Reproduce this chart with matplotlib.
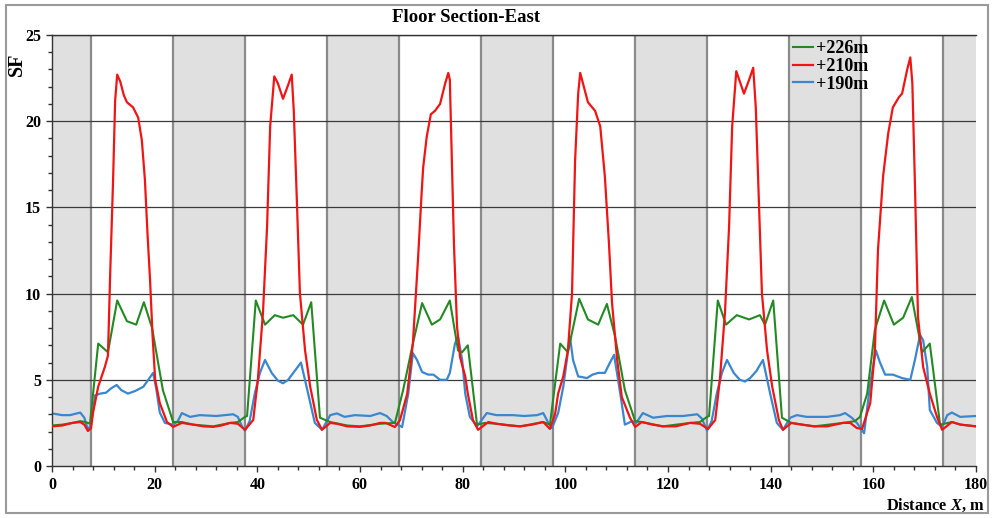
import matplotlib
matplotlib.use("Agg")
import matplotlib.pyplot as plt
from matplotlib.patches import Rectangle
from matplotlib.ticker import MultipleLocator

plt.rcParams['font.family'] = ['Liberation Serif', 'DejaVu Serif']
plt.rcParams['font.weight'] = 'bold'
plt.rcParams['mathtext.fontset'] = 'custom'
plt.rcParams['mathtext.bfit'] = 'Liberation Serif:italic:bold'
plt.rcParams['mathtext.it'] = 'Liberation Serif:italic:bold'

# shaded (gray) floor sections along the distance axis, m
gray_sections = [(0, 7.6), (23.6, 37.6), (53.6, 67.6), (83.6, 97.6),
                 (113.6, 127.6), (143.6, 157.6), (173.6, 180)]

# +226m level
x_226 = [0, 2, 4, 5.5, 6.5, 7.4,
         9.0, 10.9, 12.7, 14.6, 16.4, 17.9, 19.5, 21.6, 23.6,
         25.3, 27.5, 31.4, 34.7, 36.2, 37.6,
         38.0, 39.7, 41.5, 43.4, 45.0, 47.0, 48.9, 50.5, 52.2,
         54.2, 57.5, 60, 63.9, 66.8,
         68.4, 70.3, 72.1, 74.0, 75.6, 77.5, 79.1, 79.9, 81.0, 82.8,
         84.4, 86.6, 91.2, 95.7, 97.0,
         99.0, 100.5, 102.7, 104.4, 106.4, 108.1, 109.7, 111.6, 113.6,
         114.9, 119, 124.3, 126.2, 127.6,
         128.0, 129.7, 131.3, 133.4, 135.8, 137.9, 138.9, 140.5, 142.2,
         144.0, 148.5, 154.1, 156.4, 157.4,
         158.8, 160.3, 162.1, 164.0, 165.8, 167.5, 169.5, 171.0, 173.0,
         175.3, 177, 180]
sf_226 = [2.35, 2.4, 2.5, 2.6, 2.55, 2.45,
          7.1, 6.6, 9.6, 8.4, 8.2, 9.5, 8.0, 4.4, 2.55,
          2.55, 2.4, 2.3, 2.5, 2.55, 2.85,
          2.9, 9.6, 8.2, 8.75, 8.6, 8.75, 8.2, 9.5, 2.8,
          2.55, 2.35, 2.3, 2.45, 2.5,
          4.4, 7.1, 9.45, 8.2, 8.5, 9.6, 6.7, 6.6, 7.0, 2.4,
          2.5, 2.45, 2.3, 2.55, 2.4,
          7.1, 6.6, 9.7, 8.5, 8.2, 9.4, 7.5, 4.4, 2.6,
          2.55, 2.3, 2.5, 2.55, 2.85,
          2.9, 9.6, 8.2, 8.75, 8.5, 8.75, 8.2, 9.6, 2.8,
          2.5, 2.3, 2.5, 2.6, 2.85,
          4.2, 7.9, 9.6, 8.2, 8.6, 9.8, 6.6, 7.1, 2.4,
          2.55, 2.4, 2.3]

# +210m level
x_210 = [0, 2, 4, 5.5, 6.3, 7.0, 7.6,
         8.0, 9.0, 10.3, 10.9, 11.3, 11.9, 12.3, 12.7, 13.3, 14.0, 14.6, 15.8,
         16.8, 17.5, 18.1, 18.6, 19.1, 19.6, 20.1, 21.0, 22.4, 23.6,
         25.3, 27.5, 29.5, 31.4, 33, 34.7, 36.2, 37.6,
         39.2, 40.1, 41.1, 41.9, 42.5, 43.3, 44.0, 45.0, 46.0, 46.7, 47.1,
         47.7, 48.3, 49.3, 50.3, 51.6, 52.6,
         54.2, 55.5, 57.5, 60, 62, 63.9, 65, 66.8,
         67.8, 69.2, 70.3, 71.3, 72.0, 72.3, 73.0, 73.8, 74.6, 75.6, 76.6,
         77.2, 77.5, 77.9, 78.3, 78.9, 79.5, 80.5, 81.0, 82.0, 83.0,
         85.0, 86.6, 89, 91.2, 93.5, 95.7, 97.0,
         98.0, 98.6, 99.6, 100.5, 101.3, 101.9, 102.5, 102.9, 103.6, 104.4,
         105.8, 106.8, 107.7, 108.5, 109.1, 110.1, 111.0, 112.6, 113.6,
         114.9, 117, 119, 121.5, 124.3, 126.2, 127.8,
         129.2, 130.1, 131.1, 131.9, 132.5, 133.3, 134.0, 134.8, 135.8, 136.6,
         137.1, 137.7, 138.3, 139.3, 140.3, 141.6, 142.4,
         144.0, 146, 148.5, 151, 154.1, 155.5, 156.8, 157.8,
         159.4, 160.3, 160.9, 161.9, 162.9, 163.8, 165.0, 165.6, 166.6, 167.2,
         167.6, 168.1, 168.7, 169.7, 171.0, 172.4, 173.4,
         175.3, 177, 180]
sf_210 = [2.3, 2.35, 2.5, 2.55, 2.4, 2.03, 2.2,
          3.1, 4.6, 5.75, 6.4, 10.8, 16.6, 21.2, 22.7, 22.3, 21.5, 21.1, 20.8,
          20.2, 18.9, 16.6, 13.5, 10.8, 7.5, 5.0, 3.65, 2.55, 2.27,
          2.5, 2.4, 2.3, 2.27, 2.35, 2.5, 2.45, 2.1,
          2.67, 5.0, 8.9, 13.9, 19.7, 22.6, 22.2, 21.3, 22.1, 22.7, 20.6,
          15.4, 10.0, 6.7, 4.6, 2.67, 2.1,
          2.5, 2.45, 2.3, 2.27, 2.35, 2.5, 2.5, 2.26,
          2.67, 4.2, 7.1, 12.0, 15.8, 17.3, 19.1, 20.4, 20.6, 21.0, 22.2,
          22.8, 22.4, 17.7, 12.9, 8.1, 6.3, 5.2, 4.2, 2.67, 2.1,
          2.55, 2.45, 2.35, 2.3, 2.4, 2.55, 2.15,
          3.0, 4.2, 5.2, 6.7, 10.0, 17.7, 21.6, 22.8, 22.0, 21.1,
          20.6, 19.7, 16.8, 12.9, 9.45, 6.15, 4.0, 2.8, 2.27,
          2.55, 2.4, 2.3, 2.3, 2.5, 2.45, 2.15,
          2.67, 5.0, 8.9, 13.9, 19.7, 22.9, 22.3, 21.6, 22.4, 23.1,
          20.8, 15.4, 10.0, 6.7, 4.6, 2.67, 2.1,
          2.5, 2.4, 2.3, 2.3, 2.5, 2.5, 2.2, 2.15,
          3.65, 6.7, 12.5, 16.8, 19.3, 20.8, 21.4, 21.6, 23.0, 23.7,
          22.2, 16.4, 8.65, 5.75, 4.2, 2.85, 2.1,
          2.55, 2.4, 2.3]

# +190m level
x_190 = [0, 2, 3.5, 5.5, 6.3, 7.0, 7.6,
         8.4, 9.4, 10.5, 11.5, 12.6, 13.5, 14.8, 16.2, 17.8, 19.0, 19.7, 20.3,
         21.0, 22.0, 23.6,
         24.5, 25.3, 26.9, 28.8, 32, 35.3, 36.2, 37.0, 37.6,
         38.5, 39.5, 40.5, 41.5, 42.8, 44.0, 45.0, 46.0, 47.0, 48.5, 49.9,
         51.2, 52.6,
         54.2, 55.5, 57, 59, 62, 63.9, 65.2, 66.4, 68.2,
         69.4, 70.3, 71.1, 72.1, 73.3, 74.3, 75.6, 76.9, 77.5, 78.5, 79.1,
         79.9, 80.5, 81.4, 82.8,
         84.7, 86.6, 89.8, 92, 94.5, 95.7, 96.6, 97.4,
         98.6, 99.6, 100.9, 101.5, 102.5, 104.2, 105.3, 106.4, 107.7, 108.7,
         109.5, 110.7, 111.6, 113.0, 113.8,
         115.1, 117.1, 119.8, 122.9, 125.7, 126.6, 127.6,
         128.5, 129.5, 130.5, 131.5, 132.8, 134.0, 135.0, 136.0, 137.2, 138.5,
         139.9, 141.2, 142.4,
         143.8, 145.1, 147.0, 151, 153.5, 154.5, 155.8, 156.8, 158.2,
         159.4, 160.5, 161.3, 162.3, 163.8, 165.6, 167.2, 168.1, 169.1, 169.7,
         170.5, 171.0, 172.4, 173.4,
         174.4, 175.3, 176.9, 180]
sf_190 = [3.05, 2.95, 2.95, 3.1, 2.8, 2.1, 2.4,
          4.1, 4.2, 4.25, 4.5, 4.7, 4.4, 4.2, 4.35, 4.6, 5.1, 5.4, 4.5,
          3.1, 2.5, 2.4,
          2.6, 3.07, 2.85, 2.95, 2.9, 3.0, 2.85, 2.3, 2.05,
          2.6, 4.2, 5.4, 6.15, 5.4, 4.95, 4.8, 5.0, 5.4, 6.0, 4.2,
          2.5, 2.1,
          2.95, 3.05, 2.85, 2.95, 2.9, 3.07, 2.9, 2.55, 2.26,
          4.2, 6.55, 6.15, 5.45, 5.3, 5.3, 5.0, 5.0, 5.4, 7.1, 7.5,
          6.15, 4.2, 2.85, 2.3,
          3.07, 2.95, 2.95, 2.9, 2.95, 3.07, 2.55, 2.2,
          3.07, 4.6, 7.5, 6.15, 5.2, 5.1, 5.3, 5.4, 5.4, 6.0,
          6.45, 4.2, 2.4, 2.6, 2.5,
          3.07, 2.8, 2.9, 2.9, 3.0, 2.75, 2.05,
          2.6, 4.2, 5.4, 6.15, 5.4, 5.0, 4.9, 5.1, 5.5, 6.15,
          4.2, 2.5, 2.1,
          2.8, 2.95, 2.85, 2.85, 2.95, 3.07, 2.8, 2.5, 1.9,
          4.8, 6.7, 6.0, 5.3, 5.3, 5.1, 5.0, 6.15, 7.6, 7.3,
          5.75, 3.25, 2.5, 2.27,
          2.95, 3.1, 2.85, 2.9]

fig = plt.figure(figsize=(9.92, 5.18), dpi=100)
ax = fig.add_axes([52/992, 1 - 466/518, 924/992, 431/518])

for a, b in gray_sections:
    ax.axvspan(a, b, facecolor='#e0e0e0', edgecolor='none', zorder=0)
    for edge in (a, b):
        if 0 < edge < 180:
            ax.axvline(edge, color='#8a8a8a', lw=1.6, zorder=1)

for yv in [5, 10, 15, 20, 25]:
    ax.axhline(yv, color='#3a3a3a', lw=0.9, zorder=1)

ax.plot(x_226, sf_226, color='#238a23', lw=1.5, label='+226m', zorder=3)
ax.plot(x_210, sf_210, color='#f01414', lw=1.6, label='+210m', zorder=4)
ax.plot(x_190, sf_190, color='#3a86d0', lw=1.6, label='+190m', zorder=2)

ax.set_xlim(0, 180)
ax.set_ylim(0, 25)
ax.xaxis.set_major_locator(MultipleLocator(20))
ax.xaxis.set_minor_locator(MultipleLocator(4))
ax.yaxis.set_major_locator(MultipleLocator(5))
ax.yaxis.set_minor_locator(MultipleLocator(1))
ax.tick_params(which='both', direction='out', color='#333333', width=1)
ax.tick_params(which='major', length=4, labelsize=11.5, pad=4)
ax.tick_params(which='minor', length=3)
for lab in ax.get_xticklabels() + ax.get_yticklabels():
    lab.set_fontweight('bold')

for side in ['left', 'bottom', 'top']:
    ax.spines[side].set_color('#333333')
    ax.spines[side].set_linewidth(1)
ax.spines['right'].set_visible(False)

leg = ax.legend(loc='upper left', bbox_to_anchor=((793 - 52) / 924, (466 - 40) / 431),
                frameon=False, fontsize=13, handlelength=1.1, handletextpad=0.15,
                labelspacing=0.05, borderpad=0, borderaxespad=0)
for t in leg.get_texts():
    t.set_fontweight('bold')

fig.text(466/992, 1 - 17/518, 'Floor Section-East', ha='center', va='center',
         fontsize=13.5, fontweight='bold')
fig.text(17/992, 1 - 64/518, 'SF', rotation=90, ha='center', va='center',
         fontsize=14.5, fontweight='bold')
fig.text(985/992, 1 - 505/518, r'Distance $\mathbfit{X}$, m', ha='right', va='center',
         fontsize=11.8, fontweight='bold')

fig.patches.append(Rectangle((6/992, 5/518), 982/992, 508/518, transform=fig.transFigure,
                             fill=False, edgecolor='#9a9a9a', lw=1.5))

fig.savefig('out.png', dpi=100)
